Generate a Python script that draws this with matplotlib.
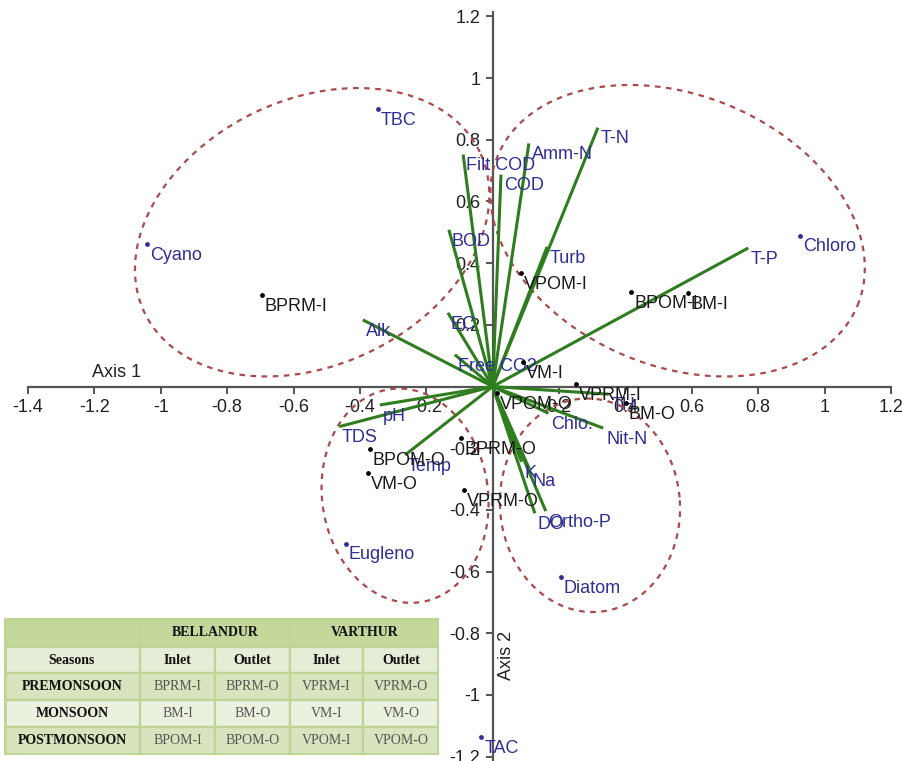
import numpy as np
import matplotlib
matplotlib.use("Agg")
import matplotlib.pyplot as plt
from matplotlib.ticker import MultipleLocator, FuncFormatter
from matplotlib.patches import Rectangle

plt.rcParams["font.family"] = ["Liberation Sans", "DejaVu Sans"]

# environmental vectors (biplot arrows)
env_names = ["T-N", "Amm-N", "Filt COD", "COD", "BOD", "Turb", "T-P", "Alk", "EC",
             "Free CO2", "pH", "TDS", "Temp", "Chlo.", "Nit-N", "TH", "K", "Na",
             "DO", "Ortho-P"]
env_x = [0.317, 0.109, -0.089, 0.025, -0.132, 0.164, 0.770, -0.391, -0.135,
         -0.114, -0.340, -0.462, -0.264, 0.168, 0.333, 0.350, 0.087, 0.112,
         0.127, 0.160]
env_y = [0.839, 0.788, 0.752, 0.687, 0.508, 0.453, 0.449, 0.216, 0.239,
         0.103, -0.060, -0.130, -0.222, -0.087, -0.135, -0.025, -0.244, -0.271,
         -0.411, -0.404]

# taxa scores
taxa = ["TBC", "Cyano", "Chloro", "Eugleno", "Diatom", "TAC"]
taxa_x = [-0.345, -1.040, 0.926, -0.442, 0.206, -0.034]
taxa_y = [0.898, 0.462, 0.489, -0.509, -0.619, -1.137]

# site scores
sites = ["BPRM-I", "VPOM-I", "BPOM-I", "BM-I", "VM-I", "VPRM-I", "BM-O",
         "VPOM-O", "BPRM-O", "BPOM-O", "VM-O", "VPRM-O"]
site_x = [-0.695, 0.085, 0.418, 0.589, 0.092, 0.251, 0.402,
          0.013, -0.094, -0.370, -0.375, -0.086]
site_y = [0.297, 0.368, 0.306, 0.303, 0.080, 0.008, -0.053,
          -0.021, -0.168, -0.203, -0.280, -0.336]

# group ellipses: centre x, centre y, semi-axis a, semi-axis b (x units), angle
ell_cx = [-0.544, 0.557, -0.264, 0.293]
ell_cy = [0.500, 0.505, -0.354, -0.385]
ell_a = [0.560, 0.587, 0.250, 0.271]
ell_b = [0.400, 0.408, 0.324, 0.322]
ell_ang = [25.6, -22.6, 8.0, 5.0]

# legend table
tbl_sites = ["BELLANDUR", "VARTHUR"]
tbl_sub = ["Seasons", "Inlet", "Outlet", "Inlet", "Outlet"]
tbl_seasons = ["PREMONSOON", "MONSOON", "POSTMONSOON"]
tbl_codes = [["BPRM-I", "BPRM-O", "VPRM-I", "VPRM-O"],
             ["BM-I", "BM-O", "VM-I", "VM-O"],
             ["BPOM-I", "BPOM-O", "VPOM-I", "VPOM-O"]]

green = "#2f7d1f"
blue = "#2e2e96"
red = "#a94a4c"

W, H = 903, 761
fig = plt.figure(figsize=(W / 100, H / 100), dpi=100)
ax = fig.add_axes([28 / W, 0.3 / H, 863 / W, 748.4 / H])
ax.set_xlim(-1.4, 1.2)
ax.set_ylim(-1.213, 1.213)

for s in ["top", "right"]:
    ax.spines[s].set_visible(False)
ax.spines["left"].set_position(("data", 0))
ax.spines["bottom"].set_position(("data", 0))
for s in ["left", "bottom"]:
    ax.spines[s].set_color("#555555")
    ax.spines[s].set_linewidth(1.6)
    ax.spines[s].set_zorder(1)

fmt = FuncFormatter(lambda v, p: "" if abs(v) < 1e-9 else f"{v:g}")
ax.xaxis.set_major_locator(MultipleLocator(0.2))
ax.yaxis.set_major_locator(MultipleLocator(0.2))
ax.xaxis.set_major_formatter(fmt)
ax.yaxis.set_major_formatter(fmt)
ax.tick_params(axis="both", direction="out", length=5, width=1.4,
               color="#555555", labelsize=13, labelcolor="#222222", pad=4)

# ellipses
k = (332.0) / (308.5)
t = np.linspace(0, 2 * np.pi, 400)
for cx, cy, a, b, ang in zip(ell_cx, ell_cy, ell_a, ell_b, ell_ang):
    th = np.deg2rad(ang)
    ex = cx + a * np.cos(t) * np.cos(th) - b * np.sin(t) * np.sin(th)
    ey = cy + k * (a * np.cos(t) * np.sin(th) + b * np.sin(t) * np.cos(th))
    ax.plot(ex, ey, color=red, lw=1.6, ls=(0, (2.5, 2.5)), zorder=2)

# vectors
for name, x, y in zip(env_names, env_x, env_y):
    ax.plot([0, x], [0, y], color=green, lw=2.2, zorder=3, solid_capstyle="butt")
    ax.annotate(name, (x, y), xytext=(2, -2), textcoords="offset points",
                ha="left", va="top", fontsize=13, color=blue, zorder=4)

# taxa
ax.scatter(taxa_x, taxa_y, s=12, color=blue, zorder=5, linewidths=0)
for name, x, y in zip(taxa, taxa_x, taxa_y):
    ax.annotate(name, (x, y), xytext=(2, -2), textcoords="offset points",
                ha="left", va="top", fontsize=13, color=blue, zorder=4)

# sites
ax.scatter(site_x, site_y, s=12, color="black", zorder=5, linewidths=0)
for name, x, y in zip(sites, site_x, site_y):
    ax.annotate(name, (x, y), xytext=(2, -2), textcoords="offset points",
                ha="left", va="top", fontsize=13, color="#1a1a1a", zorder=4)

ax.text(-1.133, 0.044, "Axis 1", fontsize=13, color="#222222", ha="center", va="center")
ax.text(0.043, -0.873, "Axis 2", fontsize=13, color="#222222", ha="center", va="center",
        rotation=90)

# table in the lower left corner
tx = fig.add_axes([4 / W, 6 / H, 435 / W, 137 / H])
tx.set_xlim(0, 435)
tx.set_ylim(137, 0)
tx.axis("off")
col_edges = [0, 136, 211, 286, 359, 435]
row_edges = [0, 29, 55, 82, 109, 137]
row_colors = ["#c5d89c", "#e5edd6", "#d8e4bd", "#ebf1df", "#d8e4bd"]
edge = "#c0d595"
serif = ["Liberation Serif", "DejaVu Serif"]

def cell(c0, c1, r, text, bold, color="#111111"):
    x0, x1 = col_edges[c0], col_edges[c1]
    y0, y1 = row_edges[r], row_edges[r + 1]
    tx.add_patch(Rectangle((x0, y0), x1 - x0, y1 - y0, facecolor=row_colors[r],
                           edgecolor=edge, lw=1.6))
    tx.text((x0 + x1) / 2, (y0 + y1) / 2, text, ha="center", va="center",
            fontsize=10, family=serif, fontweight="bold" if bold else "normal",
            color=color)

cell(0, 1, 0, "", True)
cell(1, 3, 0, tbl_sites[0], True)
cell(3, 5, 0, tbl_sites[1], True)
for j, lab in enumerate(tbl_sub):
    cell(j, j + 1, 1, lab, True)
for i, season in enumerate(tbl_seasons):
    cell(0, 1, i + 2, season, True)
    for j, code in enumerate(tbl_codes[i]):
        cell(j + 1, j + 2, i + 2, code, False, color="#555555")
tx.add_patch(Rectangle((0, 0), 435, 137, facecolor="none", edgecolor=edge, lw=3.5))

fig.savefig("out.png", dpi=100)
